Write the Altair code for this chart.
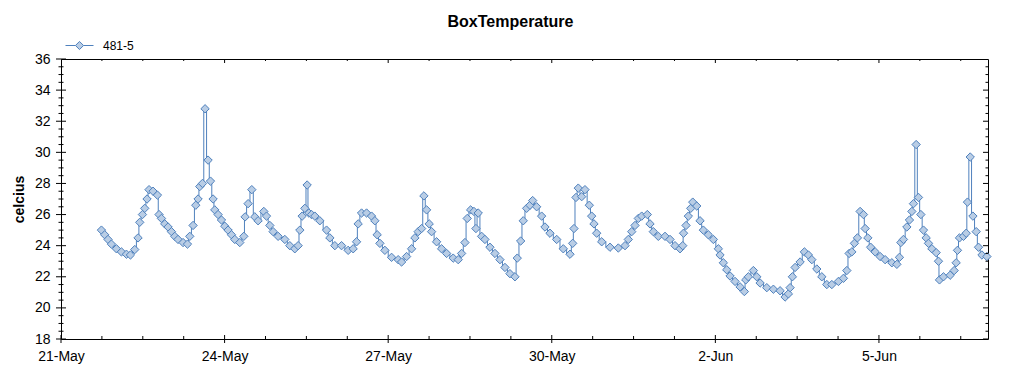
import altair as alt
import pandas as pd

TITLE = "BoxTemperature"
SERIES = "481-5"
Y_TITLE = "celcius"
START = "2011-05-21"
END = "2011-06-07"
X_LABEL_DATES = ["2011-05-21", "2011-05-24", "2011-05-27", "2011-05-30", "2011-06-02", "2011-06-05"]
Y_MIN, Y_MAX = 18, 36

# hours since 21-May 00:00
HOURS = [
    17.8, 19.24, 20.7, 22.19, 24.4, 26.6, 28.8, 30.56, 32.46, 33.91, 34.66, 35.85, 36.86, 37.87, 38.75,
    40.51, 42.45, 43.16, 44.21, 45.67, 47.12, 48.62, 50.07, 51.52, 53.73, 55.66, 56.68, 58.13, 59.32,
    60.33, 61.08, 62.27, 63.41, 64.73, 65.79, 66.94, 67.69, 69.14, 70.64, 72.09, 73.54, 75.04, 76.49,
    78.69, 80.46, 81.03, 82.35, 83.98, 85.3, 86.75, 89.26, 90.45, 91.91, 93.36, 95.56, 98.51, 100.71,
    102.91, 104.37, 105.12, 106.13, 107.32, 108.33, 109.08, 110.27, 111.72, 113.92, 116.87, 118.33,
    120.53, 123.48, 126.39, 128.59, 130.09, 130.79, 132.29, 134.49, 136.69, 138.14, 139.16, 140.35,
    142.55, 145.5, 148.4, 149.9, 152.1, 154.31, 155.76, 157.21, 158.71, 159.72, 160.91, 162.06, 163.11,
    165.31, 167.52, 169.72, 172.62, 174.83, 176.32, 177.78, 178.79, 180.29, 181.74, 182.62, 183.63,
    185.13, 186.58, 188.79, 190.99, 193.19, 195.39, 197.59, 199.8, 200.81, 202.31, 203.45, 204.95,
    206.4, 207.59, 209.35, 211.55, 213.01, 215.21, 218.16, 221.07, 224.02, 225.21, 225.78, 226.66,
    227.67, 229.17, 230.62, 232.52, 233.57, 234.58, 235.77, 237.98, 241.63, 245.29, 248.24, 249.69,
    251.19, 252.64, 254.09, 255.59, 258.06, 259.24, 260.7, 262.9, 265.85, 268.05, 270.25, 272.46,
    273.64, 274.0, 275.1, 276.11, 277.17, 278.05, 279.81, 281.26, 282.72, 284.92, 287.12, 289.32,
    290.07, 291.52, 293.02, 294.47, 296.67, 298.88, 300.77, 301.39, 302.53, 304.74, 306.23, 307.69,
    310.64, 313.54, 316.49, 318.7, 320.15, 320.9, 321.91, 323.1, 325.3, 327.2, 328.96, 330.45, 332.66,
    334.86, 337.06, 339.26, 342.17, 344.37, 345.87, 346.88, 348.07, 349.21, 350.53, 351.72, 353.18,
    353.93, 355.11, 356.35, 358.33, 360.53, 362.73, 365.69, 367.89, 369.03, 369.65, 370.79, 372.29,
    373.43, 374.49, 375.19, 376.38, 377.4, 378.45, 379.6, 380.79, 381.8, 383.3, 385.19, 386.2, 386.64,
    388.4, 391.35, 393.11, 393.99, 394.57, 395.45, 397.21, 398.4, 398.97, 400.17, 401.36, 402.81,
    403.82, 405.32, 407.52,
]
TEMPS = [
    25.0, 24.7, 24.4, 24.1, 23.8, 23.6, 23.45, 23.4, 23.75, 24.5, 25.5, 26.0, 26.4, 27.0, 27.6,
    27.5, 27.25, 26.0, 25.75, 25.4, 25.2, 24.9, 24.6, 24.4, 24.2, 24.1, 24.6, 25.3, 26.6,
    27.0, 27.8, 28.0, 32.8, 29.5, 28.15, 27.0, 26.3, 26.0, 25.65, 25.25, 25.0, 24.7, 24.4,
    24.2, 24.6, 25.85, 26.7, 27.6, 25.85, 25.6, 26.2, 25.9, 25.3, 24.9, 24.6, 24.4, 24.0,
    23.8, 24.0, 25.0, 25.9, 26.4, 27.9, 26.1, 26.0, 25.9, 25.6, 25.0, 24.5,
    24.0, 24.0, 23.7, 23.8, 24.25, 25.4, 26.1, 26.1, 25.9, 25.6, 24.7, 24.15,
    23.7, 23.25, 23.1, 22.95, 23.3, 23.8, 24.5, 24.9, 25.1, 27.2, 26.3, 25.4, 24.9,
    24.25, 23.8, 23.5, 23.2, 23.1, 23.5, 24.2, 25.75, 26.3, 26.2, 25.1, 26.1,
    24.6, 24.4, 23.9, 23.5, 23.1, 22.6, 22.2, 22.0, 23.2, 24.3, 25.6, 26.4,
    26.6, 26.9, 26.5, 25.9, 25.2, 24.8, 24.4, 23.8, 23.45, 24.15, 25.1, 27.1,
    27.7, 27.15, 27.6, 26.6, 25.9, 25.4, 24.8, 24.25, 23.9, 23.85, 24.0, 24.4,
    24.9, 25.3, 25.75, 25.9, 26.0, 25.4, 24.9, 24.6, 24.6, 24.4, 24.0, 23.8,
    24.0, 24.8, 25.3, 25.9, 26.4, 26.8, 26.55, 25.6, 25.0, 24.7, 24.4, 23.8,
    23.4, 22.9, 22.45, 22.05, 21.7, 21.35, 21.05, 21.8, 22.0, 22.4, 22.0, 21.6,
    21.3, 21.2, 21.1, 20.7, 20.9, 21.3, 22.0, 22.6, 22.95, 23.6, 23.4, 23.1, 22.5,
    22.0, 21.5, 21.5, 21.7, 21.9, 22.4, 23.5, 23.6, 24.15, 24.5, 26.2, 26.0,
    25.1, 24.5, 23.9, 23.6, 23.3, 23.1, 22.9, 22.8, 23.25, 24.2, 24.4, 25.2,
    25.65, 26.2, 26.7, 30.5, 27.1, 26.0, 25.0, 24.5, 24.15, 23.8, 23.55, 23.0, 21.8,
    22.0, 22.1, 22.4, 22.9, 23.7, 24.5, 24.6, 24.8, 26.8, 29.7, 25.9,
    24.9, 23.9, 23.4, 23.3,
]

W, H = 927, 280
FONT = "Liberation Sans"
LINE_COLOR = "#4f81bd"
FILL_COLOR = "#b9cde5"

t0 = pd.Timestamp(START)
df = pd.DataFrame({
    "t": [(t0 + pd.Timedelta(hours=h)).strftime("%Y-%m-%dT%H:%M:%S") for h in HOURS],
    "value": TEMPS,
    "series": SERIES,
})

def dt(s):
    ts = pd.Timestamp(s)
    return alt.DateTime(year=ts.year, month=ts.month, date=ts.day, hours=ts.hour)

x_scale = alt.Scale(domain=[dt(START), dt(END)])
y_scale = alt.Scale(domain=[Y_MIN, Y_MAX], nice=False, zero=False)

x_axis = alt.Axis(values=[dt(d) for d in X_LABEL_DATES], format="%-d-%b",
                  labelFont=FONT, labelFontSize=14, labelColor="black",
                  ticks=False, tickSize=0, domain=False, grid=False,
                  labelPadding=10, labelFlush=False, labelOverlap=False)
y_axis = alt.Axis(values=list(range(Y_MIN, Y_MAX + 1, 2)),
                  labelFont=FONT, labelFontSize=14, labelColor="black",
                  ticks=False, tickSize=0, domain=False, grid=False,
                  labelPadding=11, labelOverlap=False, labelFlush=False,
                  titleFont=FONT, titleFontSize=14,
                  titleFontWeight="bold", titleColor="black", titlePadding=8)

def X():
    return alt.X("t:T", scale=x_scale, title=None, axis=x_axis)

def Y():
    return alt.Y("value:Q", scale=y_scale, title=Y_TITLE, axis=y_axis)

line = alt.Chart(df).mark_line(interpolate="step", color=LINE_COLOR, strokeWidth=1).encode(
    x=X(), y=Y())

LEGEND_PATH = "M-1,0L-0.29,0M0.29,0L1,0M0,-0.29L0.29,0L0,0.29L-0.29,0Z"
points = alt.Chart(df).mark_point(shape="diamond", filled=True, fill=FILL_COLOR,
                                  strokeWidth=1, size=70, opacity=1).encode(
    x=X(), y=Y(),
    stroke=alt.Stroke("series:N", scale=alt.Scale(range=[LINE_COLOR]),
                      legend=alt.Legend(title=None, orient="none", legendX=4, legendY=-28,
                                        symbolType=LEGEND_PATH, symbolSize=784,
                                        symbolStrokeWidth=1, symbolFillColor=FILL_COLOR,
                                        symbolStrokeColor=LINE_COLOR, labelFont=FONT,
                                        labelFontSize=12, labelColor="black", labelOffset=9,
                                        padding=0)),
)

# axis tick layers
y_major = pd.DataFrame({"value": list(range(Y_MIN, Y_MAX + 1, 2))})
y_minor = pd.DataFrame({"value": [Y_MIN + 0.5 * i for i in range((Y_MAX - Y_MIN) * 2 + 1) if i % 4 != 0]})
x_all = pd.date_range(START, END, freq="18h")
x_major_set = set(pd.to_datetime(X_LABEL_DATES))
x_major = pd.DataFrame({"t": [d.strftime("%Y-%m-%dT%H:%M:%S") for d in pd.to_datetime(X_LABEL_DATES)]})
x_minor = pd.DataFrame({"t": [d.strftime("%Y-%m-%dT%H:%M:%S") for d in x_all if d not in x_major_set]})

def yt(data, xpos, size, clip):
    return alt.Chart(data).mark_tick(orient="horizontal", size=size, thickness=1,
                                      color="black", clip=clip, opacity=1).encode(
        y=Y(), x=alt.value(xpos))

def xt(data, ypos, size, clip):
    return alt.Chart(data).mark_tick(orient="vertical", size=size, thickness=1,
                                      color="black", clip=clip, opacity=1).encode(
        x=X(), y=alt.value(ypos))

ticks = [
    yt(y_major, 0, 10, False), yt(y_minor, 0, 5, False),
    yt(y_major, W, 10, True), yt(y_minor, W, 5, True),
    xt(x_major, H, 8, False), xt(x_minor, H, 6, True),
    xt(x_major, 0, 8, True), xt(x_minor, 0, 4, True),
]

chart = alt.layer(line, points, *ticks).properties(
    width=W, height=H,
    title=alt.TitleParams(TITLE, font=FONT, fontSize=16, fontWeight="bold", color="black",
                          anchor="middle", dx=-14, offset=1),
    autosize=alt.AutoSizeParams(type="none"),
    padding={"left": 53, "top": 51, "right": 20, "bottom": 28},
    background="white",
).configure_view(stroke="black", strokeWidth=1).configure_axis(
    grid=False, labelOverlap=False
).configure_axisY(labelOverlap=False)

chart.save("out.html", embed_options={"renderer": "svg", "actions": False})
